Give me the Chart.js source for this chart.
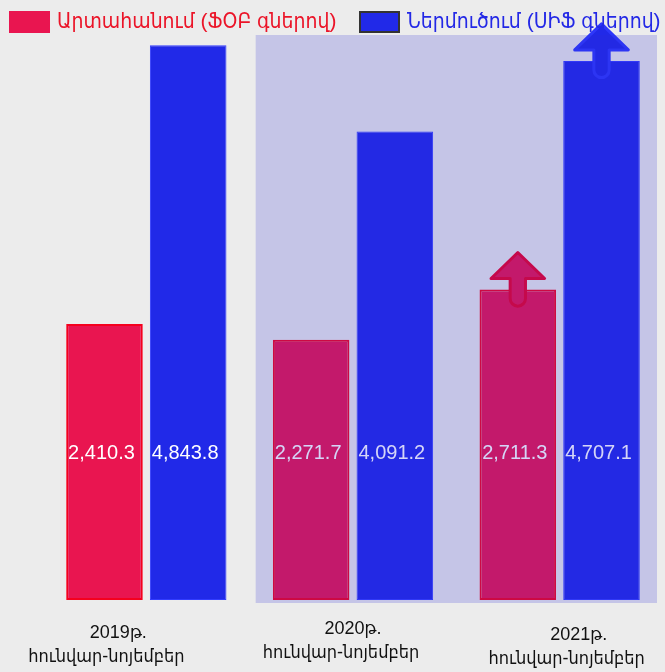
<!DOCTYPE html>
<html>
<head>
<meta charset="utf-8">
<script src="https://cdn.jsdelivr.net/npm/chart.js@4.4.0/dist/chart.umd.min.js"></script>
<style>
    html, body { margin: 0; padding: 0; background: #ececec; }
    #chart { display: block; }
</style>
</head>
<body>
<canvas id="chart" width="665" height="672"></canvas>
<script>
// 데이터
const categories = [
    ['2019թ.', 'հունվար-նոյեմբեր'],
    ['2020թ.', 'հունվար-նոյեմբեր'],
    ['2021թ.', 'հունվար-նոյեմբեր']
];
const seriesNames = ['Արտահանում (ՖՕԲ գներով)', 'Ներմուծում (ՍԻՖ գներով)'];
const exportValues = [2410.3, 2271.7, 2711.3];
const importValues = [4843.8, 4091.2, 4707.1];

const RED = 'rgb(233, 21, 80)';
const BLUE = 'rgb(33, 41, 232)';
const ARM_FONT = '"Liberation Sans", "DejaVu Sans Condensed", "DejaVu Sans", sans-serif';

// 범례 (한 줄, 직접 그림)
const legendBox = {
    id: 'legendBox',
    afterDraw(chart) {
        const ctx = chart.ctx;
        const boxX = [9, 359];
        const fill = [RED, BLUE];
        const stroke = [null, '#333333'];
        const textColor = ['rgb(235, 20, 40)', 'rgb(35, 40, 230)'];
        ctx.save();
        ctx.font = '21px ' + ARM_FONT;
        ctx.textBaseline = 'middle';
        ctx.textAlign = 'left';
        chart.data.datasets.forEach((ds, i) => {
            ctx.fillStyle = fill[i];
            ctx.fillRect(boxX[i], 11, 41, 22);
            if (stroke[i]) {
                ctx.strokeStyle = stroke[i];
                ctx.lineWidth = 2;
                ctx.strokeRect(boxX[i] + 1, 12, 39, 20);
            }
            ctx.fillStyle = textColor[i];
            ctx.fillText(ds.label, boxX[i] + 48, 22);
        });
        ctx.restore();
    }
};

// 값 레이블 (막대 안)
const valueLabels = {
    id: 'valueLabels',
    afterDatasetsDraw(chart) {
        const ctx = chart.ctx;
        const area = chart.chartArea;
        ctx.save();
        ctx.font = '20px ' + ARM_FONT;
        ctx.fillStyle = '#ffffff';
        ctx.textAlign = 'center';
        ctx.textBaseline = 'middle';
        chart.data.datasets.forEach((ds, di) => {
            chart.getDatasetMeta(di).data.forEach((bar, i) => {
                const txt = ds.data[i].toLocaleString('en-US', { minimumFractionDigits: 1 });
                ctx.fillText(txt, bar.x - 3, area.bottom - 147);
            });
        });
        ctx.restore();
    }
};

// 2021 화살표
function drawArrow(ctx, bar, fill, stroke) {
    const cx = bar.x;
    const top = bar.y;
    const head = bar.width * 0.35;
    const stem = bar.width * 0.1;
    ctx.save();
    ctx.fillStyle = fill;
    ctx.strokeStyle = stroke;
    ctx.lineWidth = 3;
    ctx.lineJoin = 'round';
    ctx.beginPath();
    ctx.moveTo(cx, top - 37);
    ctx.lineTo(cx + head, top - 11);
    ctx.lineTo(cx + stem, top - 11);
    ctx.lineTo(cx + stem, top + 9);
    ctx.arc(cx, top + 9, stem, 0, Math.PI);
    ctx.lineTo(cx - stem, top - 11);
    ctx.lineTo(cx - head, top - 11);
    ctx.closePath();
    ctx.fill();
    ctx.stroke();
    ctx.restore();
}

const arrows = {
    id: 'arrows',
    afterDatasetsDraw(chart) {
        const last = chart.data.labels.length - 1;
        drawArrow(chart.ctx, chart.getDatasetMeta(0).data[last], RED, 'rgb(235, 0, 40)');
        drawArrow(chart.ctx, chart.getDatasetMeta(1).data[last], BLUE, 'rgb(45, 55, 250)');
    }
};

// 2020~2021 반투명 배경
const overlay = {
    id: 'overlay',
    afterDraw(chart) {
        const x = chart.scales.x;
        const area = chart.chartArea;
        const left = (x.getPixelForValue(0) + x.getPixelForValue(1)) / 2 + 6;
        const ctx = chart.ctx;
        ctx.save();
        ctx.fillStyle = 'rgba(45, 45, 215, 0.2)';
        ctx.fillRect(left, area.top - 5, area.right - 6 - left, area.bottom - area.top + 8);
        ctx.restore();
    }
};

// x축 레이블 (카테고리마다 위치가 조금씩 다름)
const xLabels = {
    id: 'xLabels',
    afterDraw(chart) {
        const ctx = chart.ctx;
        const x = chart.scales.x;
        const area = chart.chartArea;
        const dx = [-34, -6, 13];
        const dy = [0, -4, 2];
        ctx.save();
        ctx.font = '18px ' + ARM_FONT;
        ctx.fillStyle = '#111111';
        ctx.textAlign = 'center';
        ctx.textBaseline = 'middle';
        chart.data.labels.forEach((lines, i) => {
            const cx = x.getPixelForValue(i) + dx[i];
            ctx.fillText(lines[0], cx + 6, area.bottom + 33 + dy[i]);
            ctx.fillText(lines[1], cx - 6, area.bottom + 57 + dy[i]);
        });
        ctx.restore();
    }
};

new Chart(document.getElementById('chart').getContext('2d'), {
    type: 'bar',
    data: {
        labels: categories,
        datasets: [{
            label: seriesNames[0],
            data: exportValues,
            backgroundColor: RED,
            borderColor: 'rgb(245, 0, 30)',
            borderWidth: 2,
            borderSkipped: false
        }, {
            label: seriesNames[1],
            data: importValues,
            backgroundColor: BLUE,
            borderColor: 'rgb(50, 60, 255)',
            borderWidth: 1,
            borderSkipped: false
        }]
    },
    plugins: [valueLabels, arrows, overlay, xLabels, legendBox],
    options: {
        responsive: false,
        animation: false,
        devicePixelRatio: 1,
        categoryPercentage: 0.81,
        barPercentage: 0.915,
        layout: { padding: { left: 43, right: 2, top: 40, bottom: 72 } },
        scales: {
            x: { display: false },
            y: { display: false, min: 0, max: 4890 }
        },
        plugins: {
            tooltip: { enabled: false },
            legend: { display: false }
        }
    }
});
</script>
</body>
</html>
